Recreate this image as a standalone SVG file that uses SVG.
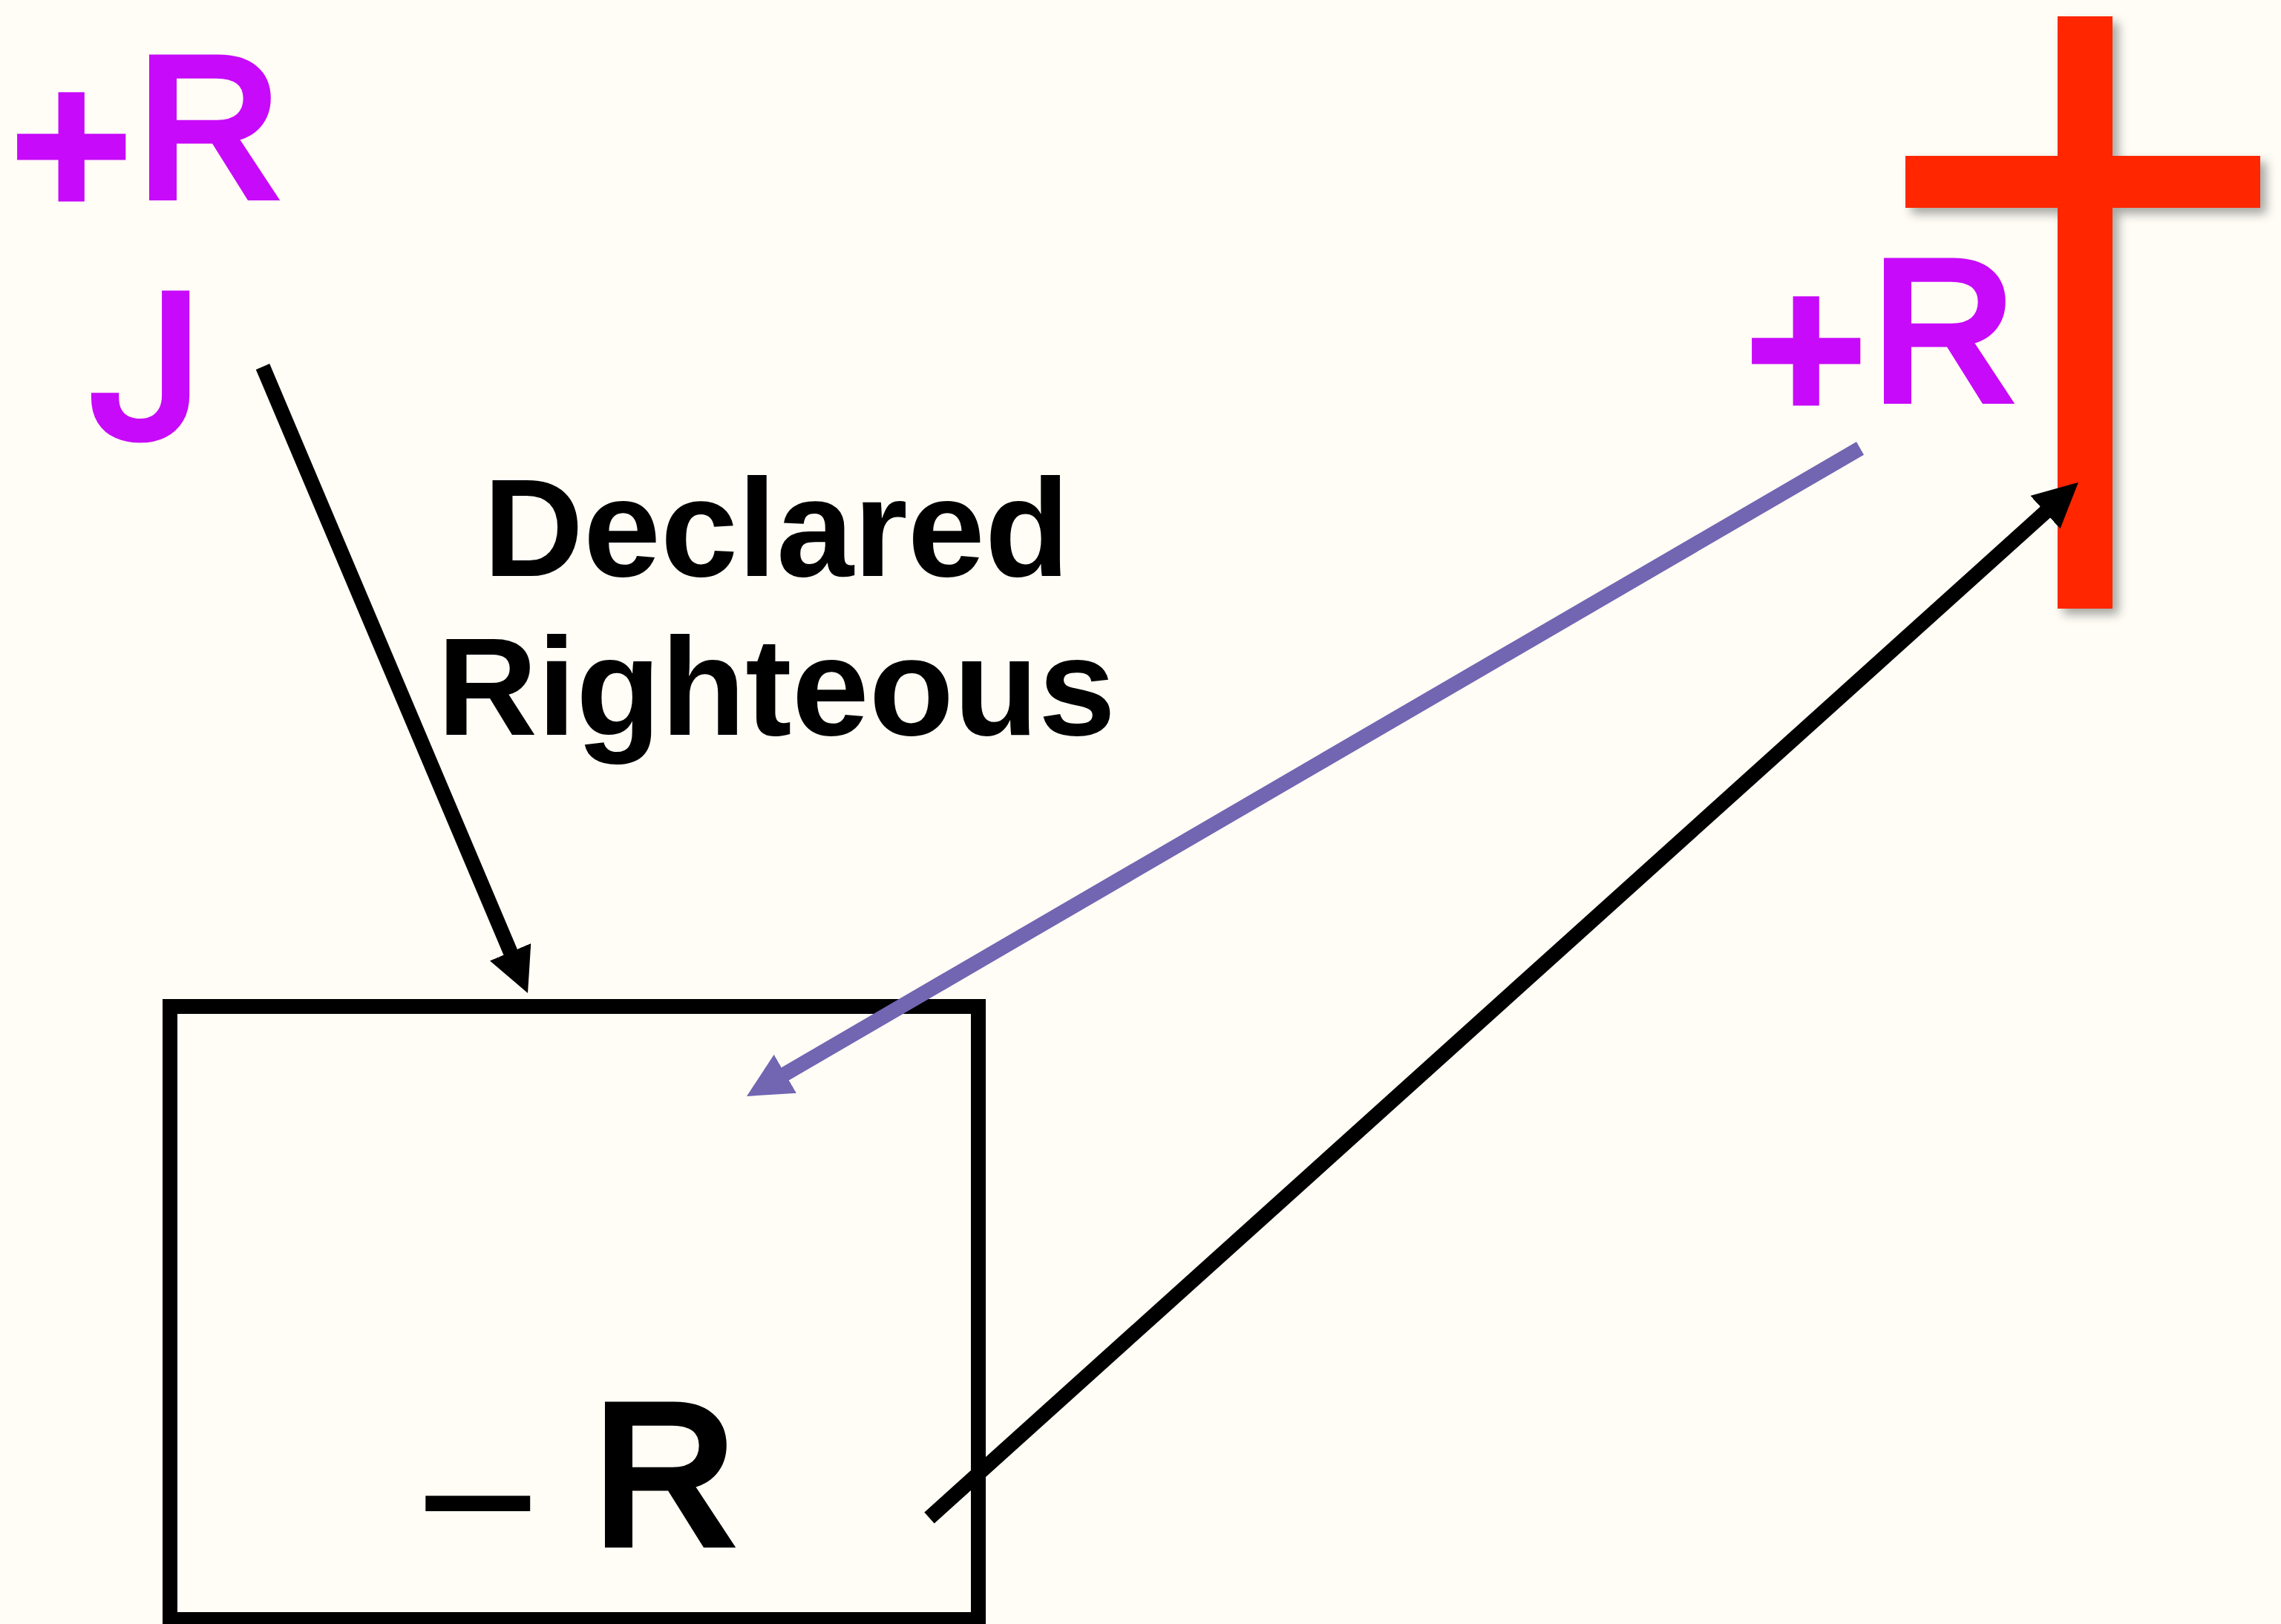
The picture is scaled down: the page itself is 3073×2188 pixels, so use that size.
<svg xmlns="http://www.w3.org/2000/svg" width="3073" height="2188" viewBox="0 0 3073 2188">
<style>
.mag{fill:#C70AFA;stroke:#C70AFA;stroke-width:12;font-family:"Liberation Sans",Arial,sans-serif;font-size:268px}
.pl{stroke-width:16}
.blk{fill:#000;stroke:#000;stroke-width:12;font-family:"Liberation Sans",Arial,sans-serif;font-size:268px}
.lbl{fill:#000;font-family:"Liberation Sans",Arial,sans-serif;font-weight:bold;font-size:187px;text-anchor:middle}
.conn{fill:none;stroke-linecap:butt;stroke-width:20}
</style>
<defs>
<marker id="ahB" markerUnits="userSpaceOnUse" markerWidth="60" markerHeight="60" refX="5" refY="30" orient="auto" viewBox="0 0 60 60"><path d="M0,0 L60,30 L0,60 z" fill="#000"/></marker>
<marker id="ahP" markerUnits="userSpaceOnUse" markerWidth="60" markerHeight="60" refX="5" refY="30" orient="auto" viewBox="0 0 60 60"><path d="M0,0 L60,30 L0,60 z" fill="#7265B2"/></marker>
<filter id="sh" x="-20%" y="-20%" width="140%" height="140%"><feDropShadow dx="8" dy="8" stdDeviation="7" flood-color="#000" flood-opacity="0.35"/></filter>
</defs>
<rect x="0" y="0" width="3073" height="2188" fill="#FFFDF6"/>
<g id="plusR-left">
<text class="mag"><tspan class="pl" x="18" y="287">+</tspan><tspan x="185" y="264">R</tspan></text>
</g>
<g id="J">
<text class="mag" style="font-family:Roboto,'Liberation Sans',sans-serif" x="122" y="588">J</text>
</g>
<g id="label">
<text class="lbl" x="1046" y="776">Declared</text>
<text class="lbl" x="1046" y="990">Righteous</text>
</g>
<g id="cross" filter="url(#sh)">
<rect x="2772" y="22" width="74" height="798" fill="#FF2500"/>
<rect x="2567" y="210" width="478" height="70" fill="#FF2500"/>
</g>
<g id="plusR-right">
<text class="mag"><tspan class="pl" x="2355" y="562">+</tspan><tspan x="2522" y="538">R</tspan></text>
</g>
<g id="box">
<rect x="229" y="1356" width="1089" height="826" fill="none" stroke="#000" stroke-width="20"/>
<text font-family="'Liberation Sans',Arial,sans-serif" font-size="290" fill="#000" x="559" y="2122">−</text>
<text class="blk" x="799" y="2079">R</text>
</g>
<g id="connectors">
<line class="conn" x1="354" y1="494" x2="689.6" y2="1287.3" stroke="#000" marker-end="url(#ahB)"/>
<line class="conn" x1="2506" y1="604" x2="1053.5" y2="1449.3" stroke="#7265B2" marker-end="url(#ahP)"/>
<line class="conn" x1="1252" y1="2045" x2="2759.1" y2="686.8" stroke="#000" marker-end="url(#ahB)"/>
</g>
</svg>
